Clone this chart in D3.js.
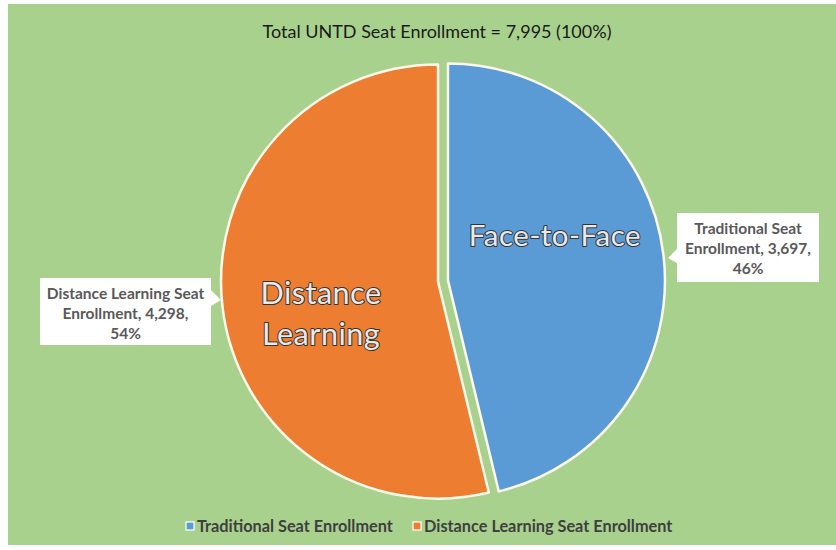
<!DOCTYPE html>
<html>
<head>
<meta charset="utf-8">
<script src="https://cdn.jsdelivr.net/npm/d3@7"></script>
<style>
  body { margin: 0; background: #fff; }
  svg text { font-family: Lato, "Open Sans", sans-serif; }
</style>
</head>
<body>
<svg id="chart" width="836" height="550"></svg>
<script>
// data
var categories = ["Traditional Seat Enrollment", "Distance Learning Seat Enrollment"];
var values = [3697, 4298];
var percents = ["46%", "54%"];
var sliceNames = [["Face-to-Face"], ["Distance", "Learning"]];
var calloutLines = [
	["Traditional Seat", "Enrollment, 3,697,", "46%"],
	["Distance Learning Seat", "Enrollment, 4,298,", "54%"]
];
var colors = ["#5b9bd5", "#ed7d31"];
var title = "Total UNTD Seat Enrollment = 7,995 (100%)";

var svg = d3.select("#chart");

// green chart area
svg.append("rect")
	.attr("x", 8).attr("y", 4)
	.attr("width", 828).attr("height", 541)
	.attr("fill", "#a9d18e");

svg.append("text")
	.attr("x", 437).attr("y", 38)
	.attr("text-anchor", "middle")
	.attr("font-size", 18)
	.attr("fill", "#1a1a1a")
	.text(title);

var cx = 443, cy = 281, radius = 217, explode = 5;

var pie = d3.pie().sort(null)(values);
var arc = d3.arc().innerRadius(0).outerRadius(radius);

var g = svg.append("g").attr("transform", "translate(" + cx + "," + cy + ")");

var slices = g.selectAll("g.slice")
	.data(pie)
	.enter().append("g")
	.attr("class", "slice")
	.attr("transform", function(d) {
		var a = (d.startAngle + d.endAngle) / 2;
		return "translate(" + (explode * Math.sin(a)) + "," + (-explode * Math.cos(a)) + ")";
	});

slices.append("path")
	.attr("d", arc)
	.attr("fill", function(d, i) { return colors[i]; })
	.attr("stroke", "#fdf8ec")
	.attr("stroke-width", 2.5)
	.attr("stroke-linejoin", "round");

// big outlined labels inside the slices
var innerPos = [[107, -45], [-117, 12]];
slices.each(function(d, i) {
	var lines = sliceNames[i];
	var fs = i === 0 ? 29.5 : 30.5;
	var t = d3.select(this).append("text")
		.attr("text-anchor", "middle")
		.attr("font-size", fs)
		.attr("fill", "#e9e9e9")
		.attr("stroke", "#333333")
		.attr("stroke-width", 2)
		.attr("stroke-linejoin", "round")
		.attr("paint-order", "stroke")
		.attr("letter-spacing", 0.5);
	lines.forEach(function(l, j) {
		t.append("tspan")
			.attr("x", innerPos[i][0])
			.attr("y", innerPos[i][1] + j * 41 + fs * 0.35)
			.text(l);
	});
});

// callout boxes
var boxes = [
	{x: 677, y: 213, w: 142, h: 69, side: "left", tipX: 668, tipY: 258},
	{x: 40, y: 278, w: 171, h: 67, side: "right", tipX: 221, tipY: 300}
];

boxes.forEach(function(b, i) {
	var p = d3.path();
	p.moveTo(b.x, b.y);
	p.lineTo(b.x + b.w, b.y);
	if (b.side === "right") {
		p.lineTo(b.x + b.w, b.y + 12);
		p.lineTo(b.tipX, b.tipY);
		p.lineTo(b.x + b.w, b.y + 28);
	}
	p.lineTo(b.x + b.w, b.y + b.h);
	p.lineTo(b.x, b.y + b.h);
	if (b.side === "left") {
		p.lineTo(b.x, b.y + 50);
		p.lineTo(b.tipX, b.tipY);
		p.lineTo(b.x, b.y + 36);
	}
	p.closePath();
	svg.append("path")
		.attr("d", p.toString())
		.attr("fill", "#ffffff");

	var t = svg.append("text")
		.attr("text-anchor", "middle")
		.attr("font-size", 15.5)
		.attr("font-weight", "bold")
		.attr("fill", "#595959");
	calloutLines[i].forEach(function(l, j) {
		t.append("tspan")
			.attr("x", b.x + b.w / 2)
			.attr("y", b.y + 21 + j * 20)
			.text(l);
	});
});

// legend
var legendX = [186, 413];
var legend = svg.selectAll("g.legend")
	.data(categories)
	.enter().append("g")
	.attr("class", "legend")
	.attr("transform", function(d, i) { return "translate(" + legendX[i] + ",527)"; });

legend.append("rect")
	.attr("x", 0).attr("y", -5)
	.attr("width", 8).attr("height", 8)
	.attr("fill", function(d, i) { return colors[i]; })
	.attr("stroke", "#ffffff")
	.attr("stroke-width", 1.2);

legend.append("text")
	.attr("x", 11).attr("y", 5)
	.attr("font-size", 16.3)
	.attr("font-weight", "bold")
	.attr("fill", "#3f3f3f")
	.text(function(d) { return d; });
</script>
</body>
</html>
